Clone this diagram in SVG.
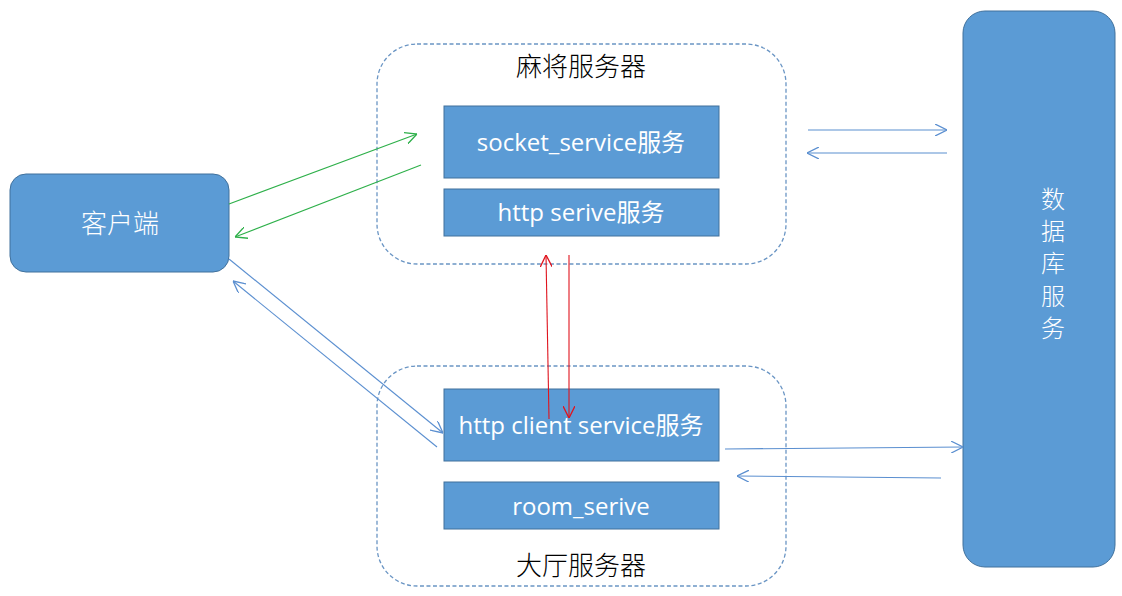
<svg xmlns="http://www.w3.org/2000/svg" width="1122" height="596" viewBox="0 0 1122 596">
<style>
.box{fill:#5b9bd5;stroke:#41719c;stroke-width:1}
.cont{fill:none;stroke:#6a95c4;stroke-width:1.3;stroke-dasharray:4 2.5}
.t{fill:#fff;font-family:"Open Sans","Noto Sans CJK SC",sans-serif;font-size:24px;text-anchor:middle}
.tc{fill:#fff;font-family:"Noto Sans CJK SC",sans-serif;font-size:26px;font-weight:300;text-anchor:middle}
.tv{fill:#fff;font-family:"Noto Sans CJK SC",sans-serif;font-size:24px;font-weight:300;text-anchor:middle}
.title{fill:#000;font-family:"Noto Sans CJK SC",sans-serif;font-size:26px;font-weight:300;text-anchor:middle}
.g{stroke:#2eb04a;stroke-width:1.1;fill:none}
.b{stroke:#5b8fd0;stroke-width:1.1;fill:none}
.r{stroke:#e0141e;stroke-width:1.1;fill:none}
</style>
<defs>
<marker id="ag" viewBox="0 0 10 10" refX="10" refY="5" markerWidth="12" markerHeight="12" markerUnits="userSpaceOnUse" orient="auto"><path d="M0,0 L10,5 L0,10" fill="none" stroke="#2eb04a" stroke-width="1.1"/></marker>
<marker id="ab" viewBox="0 0 10 10" refX="10" refY="5" markerWidth="12" markerHeight="12" markerUnits="userSpaceOnUse" orient="auto"><path d="M0,0 L10,5 L0,10" fill="none" stroke="#5b8fd0" stroke-width="1.1"/></marker>
<marker id="ar" viewBox="0 0 10 10" refX="10" refY="5" markerWidth="12" markerHeight="12" markerUnits="userSpaceOnUse" orient="auto"><path d="M0,0 L10,5 L0,10" fill="none" stroke="#e0141e" stroke-width="1.1"/></marker>
</defs>
<rect width="1122" height="596" fill="#fff"/>
<g id="mahjong-server">
<rect class="cont" x="377" y="44" width="409" height="220" rx="40"/>
<text class="title" x="581" y="76">麻将服务器</text>
</g>
<g id="lobby-server">
<rect class="cont" x="377" y="366" width="409" height="220" rx="40"/>
<text class="title" x="581" y="575">大厅服务器</text>
</g>
<g id="client">
<rect class="box" x="10" y="174" width="219" height="98" rx="16"/>
<text class="tc" x="120" y="233">客户端</text>
</g>
<g id="socket-service">
<rect class="box" x="444" y="106" width="275" height="72"/>
<text class="t" x="581" y="151">socket_service服务</text>
</g>
<g id="http-serive">
<rect class="box" x="444" y="189" width="275" height="47"/>
<text class="t" x="581" y="221">http serive服务</text>
</g>
<g id="http-client-service">
<rect class="box" x="444" y="389" width="275" height="72"/>
<text class="t" x="581" y="434">http client service服务</text>
</g>
<g id="room-serive">
<rect class="box" x="444" y="482" width="275" height="47"/>
<text class="t" x="581" y="515">room_serive</text>
</g>
<g id="database">
<rect class="box" x="963" y="11" width="152" height="556" rx="22"/>
<text class="tv" x="1053" y="208">数</text>
<text class="tv" x="1053" y="240">据</text>
<text class="tv" x="1053" y="272">库</text>
<text class="tv" x="1053" y="305">服</text>
<text class="tv" x="1053" y="337">务</text>
</g>
<g id="connectors">
<line class="g" x1="229" y1="204" x2="417" y2="134" marker-end="url(#ag)"/>
<line class="g" x1="421" y1="165" x2="235" y2="237" marker-end="url(#ag)"/>
<line class="b" x1="229" y1="259" x2="443" y2="433" marker-end="url(#ab)"/>
<line class="b" x1="437" y1="447" x2="233" y2="281" marker-end="url(#ab)"/>
<line class="r" x1="549" y1="419" x2="546" y2="255" marker-end="url(#ar)"/>
<line class="r" x1="569" y1="255" x2="569" y2="418" marker-end="url(#ar)"/>
<line class="b" x1="808" y1="130" x2="947" y2="130" marker-end="url(#ab)"/>
<line class="b" x1="947" y1="153" x2="807" y2="153" marker-end="url(#ab)"/>
<line class="b" x1="725" y1="449" x2="963" y2="447" marker-end="url(#ab)"/>
<line class="b" x1="941" y1="478" x2="737" y2="476" marker-end="url(#ab)"/>
</g>
</svg>
